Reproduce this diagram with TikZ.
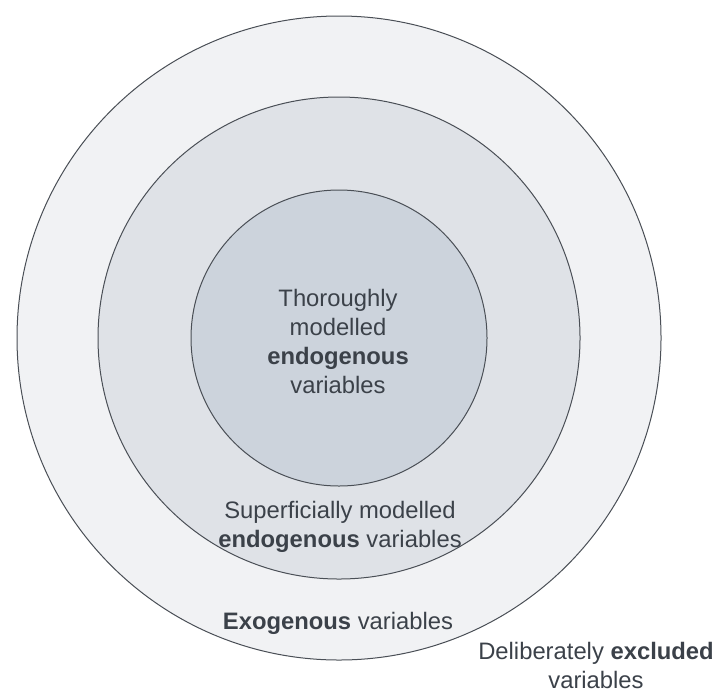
\documentclass[tikz,border=0pt]{standalone}
\usepackage{fontspec}
\setmainfont{Liberation Sans}
\usepackage{xcolor}
\definecolor{ringline}{HTML}{4A4F56}
\definecolor{ringtext}{HTML}{3B4149}
\definecolor{exofill}{HTML}{F1F2F4}
\definecolor{endofill}{HTML}{DFE2E7}
\definecolor{corefill}{HTML}{CCD3DC}

\tikzset{
    ring/.style={circle, draw=ringline, line width=0.5pt, inner sep=0pt},
    ringlabel/.style={text=ringtext, align=center, font=\fontsize{11.9}{14.5}\selectfont}
}

\begin{document}
\begin{tikzpicture}[x=0.5pt, y=0.5pt]
                \useasboundingbox (0, 0) rectangle (715, 693);

                % the three rings, largest first
                \node[ring, fill=exofill, minimum size=322pt] (exo) at (339, 355) {};
                \node[ring, fill=endofill, minimum size=241pt] (shallow) at (339, 355) {};
                \node[ring, fill=corefill, minimum size=148pt] (core) at (339, 355) {};

                \node[ringlabel] (corelabel) at (338, 352)
                    {Thoroughly\\modelled\\\textbf{endogenous}\\variables};
                \node[ringlabel] (shallowlabel) at (340, 166)
                    {Superficially modelled\\\textbf{endogenous} variables};
                \node[ringlabel] (exolabel) at (338, 70)
                    {\textbf{Exogenous} variables};
                \node[ringlabel] (excludedlabel) at (596, 28)
                    {Deliberately \textbf{excluded}\\variables};
            \end{tikzpicture}
\end{document}
